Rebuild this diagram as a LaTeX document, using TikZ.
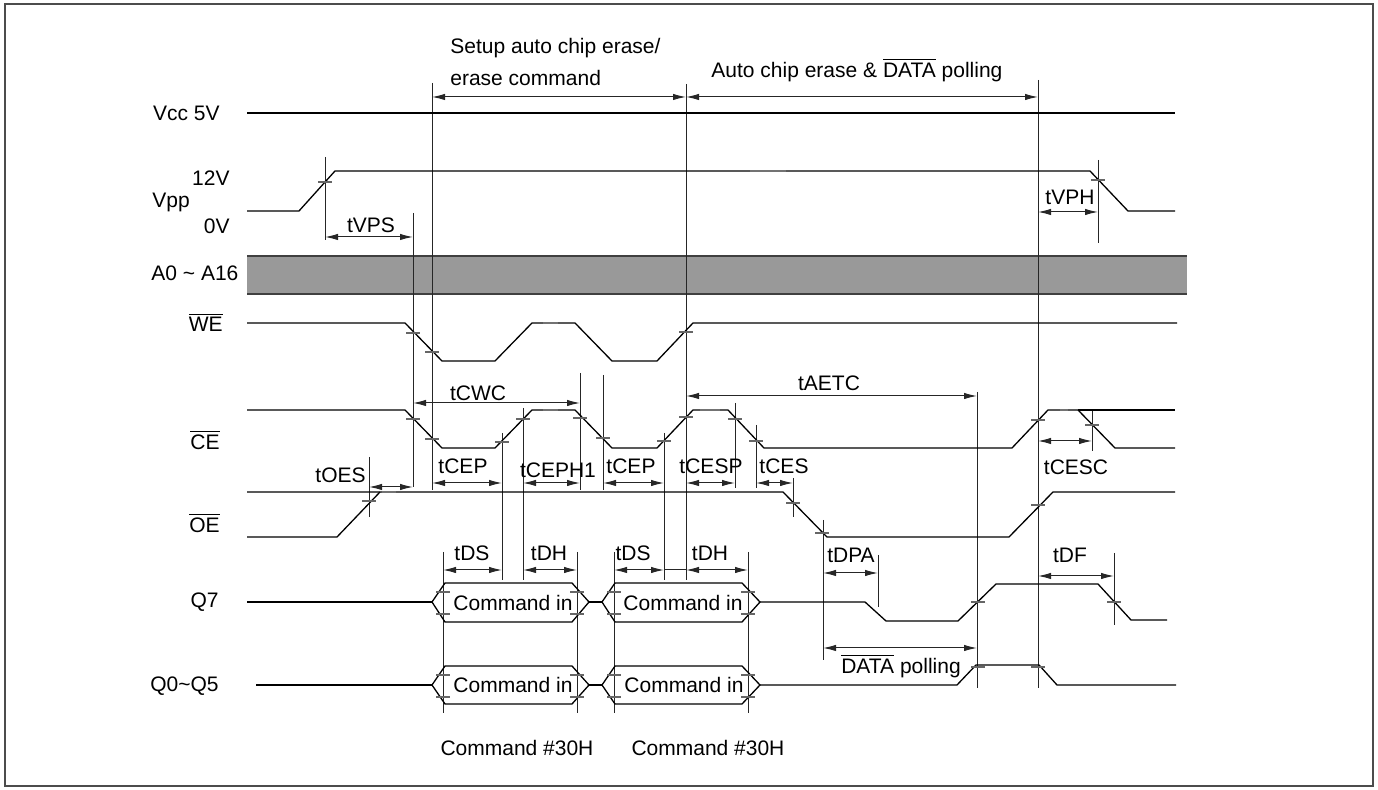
\documentclass[tikz,border=0pt]{standalone}
\usepackage{fontspec}
\setmainfont{Liberation Sans}
\usetikzlibrary{arrows.meta}
\tikzset{
  every node/.style={font=\fontsize{10.5}{12}\selectfont, inner sep=0pt},
  sig/.style={line width=0.65pt, black},
  vline/.style={line width=0.5pt, black!85},
  tick/.style={line width=0.6pt, black!60},
  levelmark/.style={line width=1.4pt, black!55},
  dim/.style={line width=0.5pt, black!85, {Latex[length=6.5pt,width=3.2pt]}-{Latex[length=6.5pt,width=3.2pt]}},
  frame/.style={line width=0.7pt, black!70},
}
\newcommand{\ovl}[1]{$\overline{\mbox{#1}}$}
\begin{document}
\begin{tikzpicture}[x=0.5pt,y=-0.5pt]
\useasboundingbox (0,0) rectangle (1378,790);
\draw[frame] (5,4) rectangle (1373,786);

% address band
\fill[gray!80] (247,256) rectangle (1187,294);
\draw[line width=0.8pt, black!75] (247,256) -- (1187,256);
\draw[line width=0.8pt, black!75] (247,294) -- (1187,294);

% vertical reference lines
\foreach \x/\a/\b in {325/157/240, 413/213/487, 432/83/490, 369/457/517,
  502/433/580, 523/408/580, 580/373/490, 603/375/490, 664/433/580, 686/84/580,
  735/403/488, 756/425/488, 793/478/517, 823/520/660, 878/555/607,
  977/392/688, 1038/80/688, 1092/410/451, 1098/160/243, 1114/553/625,
  443/552/713, 577/552/713, 614/552/713, 748/552/713}
  \draw[vline] (\x,\a) -- (\x,\b);

% signals
\draw[sig] (247,113) -- (1175,113); % Vcc
\draw[sig] (247,211) -- (299,211) -- (335,171) -- (1090,171) -- (1128,211) -- (1175,211); % Vpp
\draw[sig] (247,323) -- (405,323) -- (442,361) -- (495,361) -- (532,323) -- (575,323)
  -- (612,361) -- (657,361) -- (693,323) -- (1177,323); % WE
\draw[sig] (247,410) -- (405,410) -- (442,448) -- (495,448) -- (532,410) -- (575,410)
  -- (612,448) -- (657,448) -- (693,410) -- (728,410) -- (764,448) -- (1012,448)
  -- (1048,410) -- (1078,410) -- (1115,448) -- (1175,448); % CE
\draw[sig] (1078,410) -- (1175,410);
\draw[sig] (247,492) -- (783,492) -- (827,537) -- (1009,537) -- (1053,492) -- (1175,492); % OE
\draw[sig] (247,537) -- (337,537) -- (380,492);
% Q7
\draw[sig] (247,602) -- (432,602);
\draw[sig] (432,602) -- (445,583) -- (572,583) -- (589,602) -- (572,622) -- (445,622) -- cycle;
\draw[sig] (589,602) -- (602,602);
\draw[sig] (602,602) -- (615,583) -- (742,583) -- (760,602) -- (742,622) -- (615,622) -- cycle;
\draw[sig] (760,602) -- (865,602) -- (886,621) -- (958,621) -- (996,584) -- (1098,584)
  -- (1131,620) -- (1167,620);
% Q0~Q5
\draw[sig] (256,685) -- (432,685);
\draw[sig] (432,685) -- (445,666) -- (572,666) -- (589,685) -- (572,704) -- (445,704) -- cycle;
\draw[sig] (589,685) -- (602,685);
\draw[sig] (602,685) -- (615,666) -- (742,666) -- (760,685) -- (742,704) -- (615,704) -- cycle;
\draw[sig] (760,685) -- (957,685) -- (976,665) -- (1039,665) -- (1057,685) -- (1176,685);

% crossing ticks
\foreach \x/\y in {325/182, 1098/180, 413/333, 432/352, 686/332,
  413/419, 432/439, 502/442, 523/419, 580/418, 603/438, 664/441, 686/417,
  735/419, 756/441, 1038/420, 1092/425,
  369/501, 793/503, 822/533, 1038/505,
  443/592, 443/614, 577/592, 577/614, 614/592, 614/614, 748/592, 748/614,
  978/602, 1114/602,
  443/675, 443/697, 577/675, 577/697, 614/675, 614/697, 748/675, 748/697,
  978/667, 1038/667}
  \draw[tick] (\x-7,\y) -- (\x+7,\y);
% small overlay marks on levels
\foreach \a/\b/\y in {750/786/171, 543/558/323, 543/558/410, 700/720/410, 1060/1068/410, 382/396/492}
  \draw[levelmark] (\a,\y) -- (\b,\y);

% dimension arrows
\foreach \y/\a/\b in {97/432/686, 97/686/1038, 237/325/413, 212/1038/1098,
  403/413/580, 487/369/413, 483/432/502, 483/523/580, 483/603/664, 483/686/735,
  483/756/793, 396/686/977, 441/1038/1092, 570/443/502, 570/523/577,
  570/614/664, 570/686/748, 573/823/878, 576/1038/1114, 648/823/977}
  \draw[dim] (\a,\y) -- (\b,\y);
\draw[vline] (664,570) -- (686,570);

% labels
\node[anchor=west] (setup1) at (450,48) {Setup auto chip erase/};
\node[anchor=west] (setup2) at (450,78) {erase command};
\node[anchor=west] (auto) at (711,70) {Auto chip erase \& \ovl{DATA} polling};
\node[anchor=east] (vcc) at (220,113) {Vcc 5V};
\node[anchor=east] (v12) at (230,178) {12V};
\node[anchor=west] (vpp) at (152,202) {Vpp};
\node[anchor=east] (v0) at (230,226) {0V};
\node (tvps) at (371,225) {tVPS};
\node (tvph) at (1070,197) {tVPH};
\node[anchor=west] (addr) at (151,273) {A0 \textasciitilde{} A16};
\node[anchor=east] (we) at (223,322) {\ovl{WE}};
\node[anchor=east] (ce) at (220,440) {\ovl{CE}};
\node[anchor=east] (oe) at (220,523) {\ovl{OE}};
\node[anchor=east] (q7) at (219,602) {Q7};
\node[anchor=east] (q05) at (219,686) {Q0\textasciitilde{}Q5};
\node (tcwc) at (478,393) {tCWC};
\node[anchor=east] (toes) at (366,475) {tOES};
\node (tcep1) at (463,466) {tCEP};
\node (tceph) at (558,470) {tCEPH1};
\node (tcep2) at (631,466) {tCEP};
\node (tcesp) at (711,466) {tCESP};
\node (tces) at (784,466) {tCES};
\node (taetc) at (829,383) {tAETC};
\node (tcesc) at (1076,467) {tCESC};
\node (tds1) at (472,553) {tDS};
\node (tdh1) at (549,553) {tDH};
\node (tds2) at (633,553) {tDS};
\node (tdh2) at (710,553) {tDH};
\node (tdpa) at (851,555) {tDPA};
\node (tdf) at (1070,555) {tDF};
\node (dpoll) at (901,666) {\ovl{DATA} polling};
\node (cmd1) at (513,603) {Command in};
\node (cmd2) at (683,603) {Command in};
\node (cmd3) at (513,685) {Command in};
\node (cmd4) at (684,685) {Command in};
\node (c30a) at (517,748) {Command \#30H};
\node (c30b) at (708,748) {Command \#30H};
\end{tikzpicture}
\end{document}
